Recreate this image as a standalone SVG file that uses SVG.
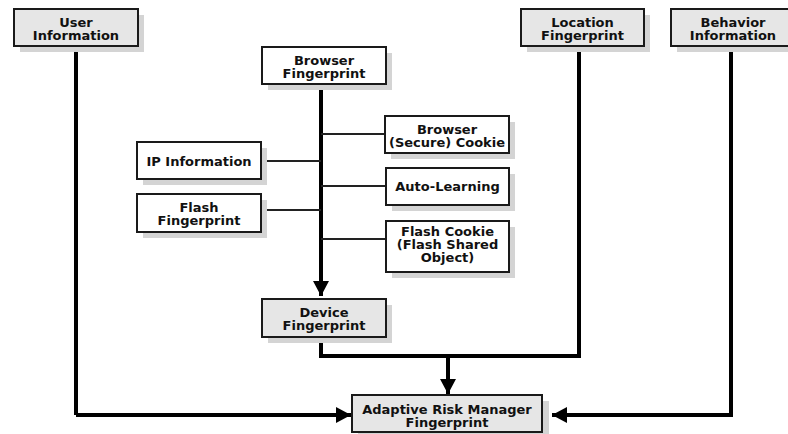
<svg xmlns="http://www.w3.org/2000/svg" width="788" height="434" viewBox="0 0 788 434">
<defs>
<style>
.box{stroke:#1a1a1a;stroke-width:2}
.g{fill:#e6e6e6}
.w{fill:#ffffff}
.sh{fill:#d4d4d4}
.t{font-family:"DejaVu Sans",sans-serif;font-weight:bold;font-size:13px;fill:#111;text-anchor:middle}
.thick{fill:none;stroke:#000;stroke-width:4}
.thin{fill:none;stroke:#222;stroke-width:2}
</style>
<marker id="ah" markerUnits="userSpaceOnUse" markerWidth="16" markerHeight="16" viewBox="0 0 16 16" refX="15" refY="8" orient="auto">
<path d="M0,0 L15,8 L0,16 Z" fill="#000"/>
</marker>
</defs>
<g id="connectors">
<line class="thick" x1="76" y1="46" x2="76" y2="415"/>
<path class="thick" d="M76,415 H351" marker-end="url(#ah)"/>
<path class="thick" d="M731,46 V415 H552" marker-end="url(#ah)"/>
<path class="thick" d="M321,84 V296" marker-end="url(#ah)"/>
<path class="thick" d="M579,46 V356 H321 V337"/>
<path class="thick" d="M448,356 V394" marker-end="url(#ah)"/>
<line class="thin" x1="321" y1="134" x2="385" y2="134"/>
<line class="thin" x1="321" y1="186" x2="385" y2="186"/>
<line class="thin" x1="321" y1="239" x2="385" y2="239"/>
<line class="thin" x1="261" y1="161" x2="321" y2="161"/>
<line class="thin" x1="261" y1="210" x2="321" y2="210"/>
</g>
<g id="user-information">
<rect class="sh" x="20" y="15" width="124" height="37"/>
<rect class="box g" x="14" y="9" width="124" height="37"/>
<text class="t" x="76" y="26.5">User</text>
<text class="t" x="76" y="39.5">Information</text>
</g>
<g id="location-fingerprint">
<rect class="sh" x="527" y="15" width="123" height="37"/>
<rect class="box g" x="521" y="9" width="123" height="37"/>
<text class="t" x="582.5" y="26.5">Location</text>
<text class="t" x="582.5" y="39.5">Fingerprint</text>
</g>
<g id="behavior-information">
<rect class="sh" x="677" y="15" width="124" height="37"/>
<rect class="box g" x="671" y="9" width="124" height="37"/>
<text class="t" x="733" y="26.5">Behavior</text>
<text class="t" x="733" y="39.5">Information</text>
</g>
<g id="browser-fingerprint">
<rect class="sh" x="268" y="53" width="124" height="37"/>
<rect class="box w" x="262" y="47" width="124" height="37"/>
<text class="t" x="324" y="64.5">Browser</text>
<text class="t" x="324" y="77.5">Fingerprint</text>
</g>
<g id="browser-cookie">
<rect class="sh" x="391" y="122" width="124" height="37"/>
<rect class="box w" x="385" y="116" width="124" height="37"/>
<text class="t" x="447" y="133.5">Browser</text>
<text class="t" x="447" y="146.5">(Secure) Cookie</text>
</g>
<g id="ip-information">
<rect class="sh" x="143" y="148" width="124" height="37"/>
<rect class="box w" x="137" y="142" width="124" height="37"/>
<text class="t" x="199" y="166">IP Information</text>
</g>
<g id="auto-learning">
<rect class="sh" x="392" y="174" width="123" height="37"/>
<rect class="box w" x="386" y="168" width="123" height="37"/>
<text class="t" x="447.5" y="191">Auto-Learning</text>
</g>
<g id="flash-fingerprint">
<rect class="sh" x="143" y="200" width="124" height="38"/>
<rect class="box w" x="137" y="194" width="124" height="38"/>
<text class="t" x="199" y="211.5">Flash</text>
<text class="t" x="199" y="224.5">Fingerprint</text>
</g>
<g id="flash-cookie">
<rect class="sh" x="392" y="227" width="123" height="51"/>
<rect class="box w" x="386" y="221" width="123" height="51"/>
<text class="t" x="447.5" y="236">Flash Cookie</text>
<text class="t" x="447.5" y="249">(Flash Shared</text>
<text class="t" x="447.5" y="262">Object)</text>
</g>
<g id="device-fingerprint">
<rect class="sh" x="268" y="305" width="124" height="38"/>
<rect class="box g" x="262" y="299" width="124" height="38"/>
<text class="t" x="324" y="316.5">Device</text>
<text class="t" x="324" y="329.5">Fingerprint</text>
</g>
<g id="adaptive-risk-manager">
<rect class="sh" x="358" y="401" width="191" height="36"/>
<rect class="box g" x="352" y="395" width="190" height="37"/>
<text class="t" x="447" y="413.5">Adaptive Risk Manager</text>
<text class="t" x="447" y="426.5">Fingerprint</text>
</g>
</svg>
